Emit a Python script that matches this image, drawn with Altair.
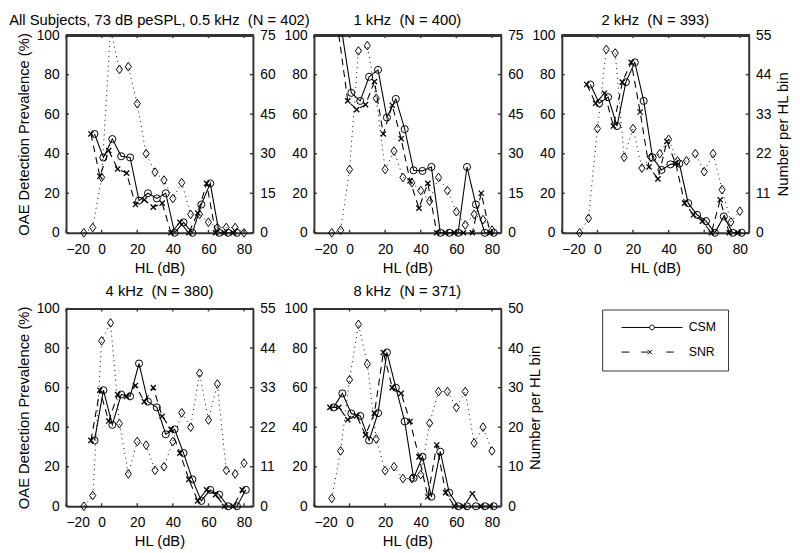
import altair as alt
import pandas as pd

# ---------------- data ----------------
BINS = [-10, -5, 0, 5, 10, 15, 20, 25, 30, 35, 40, 45, 50, 55, 60, 65, 70, 75, 80]

TITLES = [
    "All Subjects, 73 dB peSPL, 0.5 kHz\u00a0 (N = 402)",
    "1 kHz\u00a0 (N = 400)",
    "2 kHz\u00a0 (N = 393)",
    "4 kHz\u00a0 (N = 380)",
    "8 kHz\u00a0 (N = 371)",
]

# number of subjects per HL bin (right axis)
COUNT_05 = [0, 2, 21, 77, 62, 63, 49, 30, 23, 20, 13, 19, 7, 7, 4, 2, 2, 2, 0]
COUNT_1 = [0, 1, 24, 69, 71, 51, 24, 31, 21, 19, 16, 12, 21, 16, 8, 3, 7, 5, 1]
COUNT_2 = [0, 4, 29, 51, 50, 21, 29, 18, 21, 22, 26, 20, 20, 22, 17, 22, 12, 3, 6]
COUNT_4 = [0, 3, 46, 51, 23, 9, 18, 17, 10, 11, 18, 26, 22, 37, 24, 34, 10, 9, 12]
COUNT_8 = [2, 14, 32, 46, 36, 17, 9, 10, 7, 7, 8, 21, 29, 29, 25, 29, 16, 20, 14]

# OAE detection prevalence (%) - CSM criterion
CSM_05 = [None, 50, 38.1, 47.4, 38.7, 38.1, 16.3, 20, 17.4, 20, 0, 5.3, 0, 14.3, 25, 0, 0, 0, None]
CSM_1 = [None, 100, 70.8, 66.7, 78.9, 82.4, 58.3, 67.7, 52.4, 31.6, 31.3, 33.3, 0, 0, 0, 33.3, 14.3, 0, 0]
CSM_2 = [None, 75, 65.5, 68.6, 54, 76.2, 86.2, 66.7, 38.1, 31.8, 34.6, 35, 15, 9.1, 5.9, 0, 8.3, 0, 0]
CSM_4 = [None, 33.3, 58.7, 41.2, 56.5, 55.6, 72.2, 52.9, 50, 36.4, 38.9, 26.9, 13.6, 2.7, 8.3, 5.9, 0, 0, 8.3]
CSM_8 = [50, 57.1, 46.9, 45.7, 33.3, 47.1, 77.8, 60, 42.9, 14.3, 25, 4.8, 27.6, 6.9, 0, 0, 0, 0, 0]

# OAE detection prevalence (%) - SNR criterion
SNR_05 = [None, 50, 28.6, 41.6, 32.3, 30.2, 14.3, 16.7, 13, 15, 0, 5.3, 0, 10, 25, 0, 0, 0, None]
SNR_1 = [None, 100, 66.7, 62.3, 64.8, 76.5, 50, 64.5, 47.6, 26.3, 12.5, 25, 0, 0, 0, 0, 0, 20, 0]
SNR_2 = [None, 75, 65.5, 70.6, 54, 76.2, 86.2, 61.1, 33.3, 27.3, 46.2, 35, 15, 9.1, 5.9, 0, 16.7, 0, 0]
SNR_4 = [None, 33.3, 58.7, 43.1, 56.5, 55.6, 61.1, 52.9, 60, 45.5, 38.9, 26.9, 13.6, 2.7, 8.3, 5.9, 0, 0, 8.3]
SNR_8 = [50, 50, 43.8, 45.7, 36.1, 47.1, 77.8, 60, 57.1, 42.9, 25, 4.8, 31, 6.9, 0, 0, 6.3, 0, 0]

RIGHT_MAX = [75, 75, 55, 55, 50]
RIGHT_TICKS = [
    [0, 15, 30, 45, 60, 75],
    [0, 15, 30, 45, 60, 75],
    [0, 11, 22, 33, 44, 55],
    [0, 11, 22, 33, 44, 55],
    [0, 10, 20, 30, 40, 50],
]
LEFT_TICKS = [0, 20, 40, 60, 80, 100]
X_TICKS = [-20, 0, 20, 40, 60, 80]
SERIES = ["CSM", "SNR"]

COUNTS = [COUNT_05, COUNT_1, COUNT_2, COUNT_4, COUNT_8]
CSMS = [CSM_05, CSM_1, CSM_2, CSM_4, CSM_8]
SNRS = [SNR_05, SNR_1, SNR_2, SNR_4, SNR_8]

# ---------------- styling ----------------
FONT = "Liberation Sans"
INK = "#000000"
FRAME = "#333333"
FW = 2            # box line width
W, H = 190, 201
TL = 3            # inward tick length (px)

XMARK = "M-1,-1L1,1M-1,1L1,-1"
DIAMOND = "M0,-1.2L0.85,0L0,1.2L-0.85,0Z"
LEG_CSM = ("M-6.2,0H-0.48M0.48,0H6.2"
           "M-0.48,0A0.48,0.48,0,1,0,0.48,0A0.48,0.48,0,1,0,-0.48,0")
LEG_SNR = ("M-6.2,0H-4.6M-2.2,0H-0.8M2.9,0H4.4"
           "M-0.92,-0.46L0,0.46M-0.92,0.46L0,-0.46")


def make_panel(i):
    df = pd.DataFrame({"hl": BINS, "count": COUNTS[i], "csm": CSMS[i], "snr": SNRS[i]})
    base = alt.Chart(df)
    rmax = RIGHT_MAX[i]

    xscale = alt.Scale(domain=[-20, 85], nice=False, zero=False)
    xaxis = alt.Axis(values=X_TICKS, format="d", title="HL (dB)",
                     labelPadding=10, titlePadding=4, domain=True,
                     domainColor=FRAME, domainWidth=FW)

    def X(f):
        return alt.X(f"{f}:Q", scale=xscale, axis=xaxis)

    left_title = "OAE Detection Prevalence (%)" if i in (0, 3) else None
    yl_axis = alt.Axis(orient="left", values=LEFT_TICKS, title=left_title,
                       labelPadding=7, titlePadding=5, domain=True,
                       domainColor=FRAME, domainWidth=FW)
    yl_scale = alt.Scale(domain=[0, 100], nice=False)

    def YL(f):
        return alt.Y(f"{f}:Q", scale=yl_scale, axis=yl_axis)

    right_title = "Number per HL bin" if i in (2, 4) else None
    yr_axis = alt.Axis(orient="right", values=RIGHT_TICKS[i], title=right_title,
                       labelPadding=7, titlePadding=5, titleAngle=270,
                       titleBaseline="top", domain=True,
                       domainColor=FRAME, domainWidth=FW)
    yr_scale = alt.Scale(domain=[0, rmax], nice=False)

    def YR(f):
        return alt.Y(f"{f}:Q", scale=yr_scale, axis=yr_axis)

    csm = base.transform_filter("isValid(datum.csm)").transform_calculate(xc="datum.hl + 1")
    snr = base.transform_filter("isValid(datum.snr)").transform_calculate(xs="datum.hl - 1")

    csm_line = csm.mark_line(color=INK, strokeWidth=1.1, clip=True).encode(x=X("xc"), y=YL("csm"))
    csm_pts = csm.transform_filter("datum.csm < 100").mark_point(
        shape="circle", size=52, filled=False, color=INK, strokeWidth=1, opacity=1
    ).encode(x=X("xc"), y=YL("csm"))
    snr_line = snr.mark_line(color=INK, strokeWidth=1.1, strokeDash=[7, 5], clip=True).encode(
        x=X("xs"), y=YL("snr"))
    snr_pts = snr.transform_filter("datum.snr < 100").mark_point(
        shape=XMARK, size=28, filled=False, color=INK, strokeWidth=1.3, opacity=1
    ).encode(x=X("xs"), y=YL("snr"))

    # top edge of the box and inward tick marks (MATLAB style)
    xt = alt.Chart(pd.DataFrame({"t": X_TICKS}))
    yt = alt.Chart(pd.DataFrame({"t": LEFT_TICKS}))
    top_edge = xt.mark_rule(color=FRAME, strokeWidth=FW).encode(
        x=alt.value(0), x2=alt.value(W + 1), y=alt.value(0.5))
    rk = dict(color=FRAME, strokeWidth=1.4)
    xt_top = xt.mark_rule(**rk).encode(x=X("t"), y=alt.value(0), y2=alt.value(TL))
    xt_bot = xt.mark_rule(**rk).encode(x=X("t"), y=alt.value(H - TL), y2=alt.value(H))
    yt_l = yt.mark_rule(**rk).encode(y=YL("t"), x=alt.value(0), x2=alt.value(TL))
    yt_r = yt.mark_rule(**rk).encode(y=YL("t"), x=alt.value(W - TL), x2=alt.value(W))

    left_layers = [top_edge, xt_top, xt_bot, yt_l, yt_r, csm_line, snr_line, csm_pts, snr_pts]

    if i == 4:
        leg = alt.Chart(pd.DataFrame({"series": SERIES})).mark_point(
            opacity=0, size=100, filled=False, color=INK
        ).encode(
            shape=alt.Shape(
                "series:N",
                scale=alt.Scale(domain=SERIES, range=[LEG_CSM, LEG_SNR]),
                legend=alt.Legend(
                    title=None, orient="none", legendX=545, legendY=279,
                    padding=12, rowPadding=12, symbolSize=100,
                    symbolStrokeWidth=1, symbolStrokeColor=INK,
                    symbolFillColor="transparent", symbolOpacity=1,
                    symbolOffset=32.5, labelOffset=31, labelFontSize=12.5,
                    labelFont=FONT, labelColor=INK, strokeColor=FRAME,
                    fillColor="white",
                ),
            )
        )
        left_layers.append(leg)

    cnt_line = base.mark_line(color=INK, strokeWidth=1, strokeDash=[1, 4], clip=True).encode(
        x=X("hl"), y=YR("count"))
    cnt_pts = base.transform_filter(f"datum.count <= {rmax}").mark_point(
        shape=DIAMOND, size=54, filled=False, color=INK, strokeWidth=1, opacity=1
    ).encode(x=X("hl"), y=YR("count"))

    left = alt.layer(*left_layers)
    right = alt.layer(cnt_line, cnt_pts)
    offset = 0 if i < 3 else 3
    return alt.layer(left, right).resolve_scale(y="independent").properties(
        width=W, height=H,
        title=alt.TitleParams(TITLES[i], fontSize=15, offset=offset, frame="group"),
    )


panels = [make_panel(i) for i in range(5)]

chart = alt.concat(
    *panels, columns=3, spacing={"row": 77, "column": 62}, bounds="flush"
).properties(
    padding={"left": 0, "top": 0, "right": 0, "bottom": 0}
).configure_view(
    stroke="transparent"
).configure_axis(
    labelFont=FONT, titleFont=FONT, labelFontSize=14, titleFontSize=15,
    labelColor=INK, titleColor=INK, titleFontWeight="normal",
    grid=False, ticks=False, tickSize=0,
).configure_title(
    font=FONT, fontSize=15, fontWeight="normal", color=INK
)

chart.save("out.html", embed_options={"renderer": "svg", "actions": False})
